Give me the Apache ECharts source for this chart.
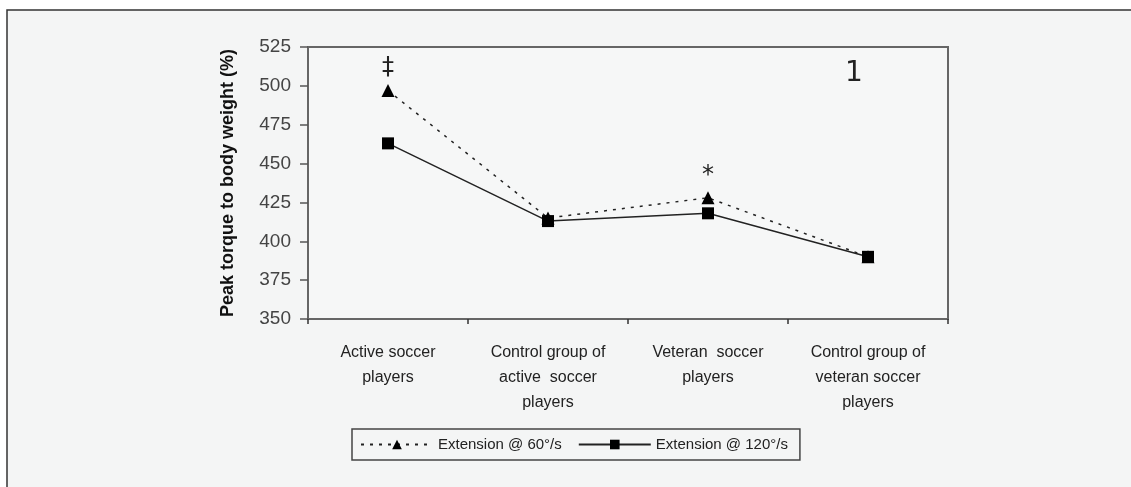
<!DOCTYPE html>
<html>
<head>
<meta charset="utf-8">
<script src="https://cdn.jsdelivr.net/npm/echarts@6/dist/echarts.min.js"></script>
<style>
html,body{margin:0;padding:0;background:#ffffff;}
#chart{width:1131px;height:487px;}
</style>
</head>
<body>
<div id="chart"></div>
<script>
var categories = [
  'Active soccer\nplayers',
  'Control group of\nactive  soccer\nplayers',
  'Veteran  soccer\nplayers',
  'Control group of\nveteran soccer\nplayers'
];
var ext60 = [497, 415, 428, 390];
var ext120 = [463, 413, 418, 390];
var ext60Marks = ['\u2021', '', '*', ''];
var seriesNames = ['Extension @ 60\u00b0/s', 'Extension @ 120\u00b0/s'];
var yTicks = [350, 525, 25];

var sans = '"Liberation Sans", Arial, sans-serif';

var chart = echarts.init(document.getElementById('chart'));
chart.setOption({
  backgroundColor: '#ffffff',
  animation: false,
  graphic: [
    {type:'rect', shape:{x:7, y:10, width:1200, height:520}, style:{fill:'#f4f5f5', stroke:'#333', lineWidth:1.5}, z:-10},
    {type:'text', left:845, top:60, style:{text:'1', font:'28px "DejaVu Sans", sans-serif', fill:'#222'}, z:10}
  ],
  grid: {left:308, top:47, right:183, bottom:168, show:true, borderColor:'#666', borderWidth:2, backgroundColor:'#f6f7f7'},
  legend: {
    left:352, top:429, width:448,
    padding:[8,12,8,8],
    borderColor:'#444', borderWidth:1.5,
    itemWidth:72, itemHeight:12, itemGap:16,
    textStyle:{fontFamily:sans, fontSize:15, color:'#222'},
    data: seriesNames
  },
  xAxis: {
    type:'category', data:categories, boundaryGap:true,
    axisLine:{lineStyle:{color:'#666', width:2}},
    axisTick:{show:true, length:5, lineStyle:{color:'#333', width:1.5}},
    axisLabel:{margin:21, fontFamily:sans, fontSize:16, lineHeight:25, color:'#222', interval:0}
  },
  yAxis: {
    type:'value', min:yTicks[0], max:yTicks[1], interval:yTicks[2],
    name:'Peak torque to body weight (%)', nameLocation:'middle', nameGap:71,
    nameTextStyle:{fontFamily:sans, fontSize:18, fontWeight:'bold', color:'#111'},
    axisLine:{show:true, lineStyle:{color:'#666', width:2}},
    axisTick:{show:true, length:8, lineStyle:{color:'#555', width:1.5}},
    axisLabel:{margin:17, fontFamily:sans, fontSize:19, color:'#444'},
    splitLine:{show:false}
  },
  series: [
    {
      name: seriesNames[0], type:'line',
      data: ext60.map(function(v,i){
        return ext60Marks[i] ? {value:v, label:{show:true, position:'top', distance:4, formatter:ext60Marks[i], fontSize:24, color:'#222', fontFamily:'"DejaVu Sans", sans-serif'}} : v;
      }),
      symbol:'triangle', symbolSize:13,
      lineStyle:{color:'#222', width:1.5, type:[3,6]},
      itemStyle:{color:'#000'},
      z:3
    },
    {
      name: seriesNames[1], type:'line', data: ext120,
      symbol:'rect', symbolSize:12,
      lineStyle:{color:'#222', width:1.5, type:'solid'},
      itemStyle:{color:'#000'},
      z:4
    }
  ]
});
</script>
</body>
</html>
